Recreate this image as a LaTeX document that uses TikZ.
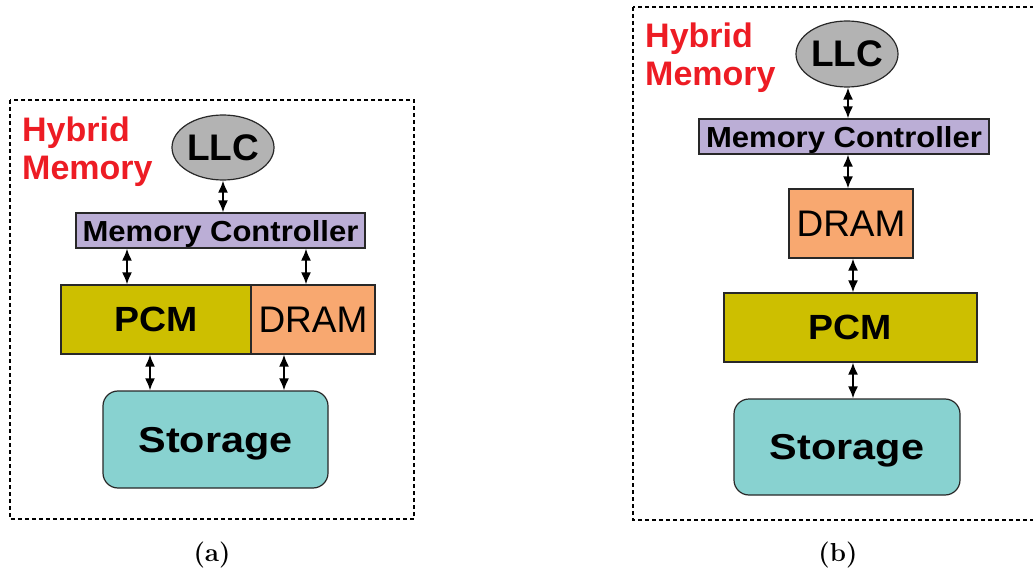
\documentclass[tikz,border=0pt]{standalone}
\usepackage{fontspec}
\newfontfamily\lsans{Liberation Sans}
\newfontfamily\lsanswide[FakeStretch=1.07]{Liberation Sans}
\newfontfamily\lsanswider[FakeStretch=1.15]{Liberation Sans}
\usetikzlibrary{arrows.meta,shapes.geometric}

\definecolor{llcgray}{RGB}{179,179,179}
\definecolor{mcpurple}{RGB}{187,174,214}
\definecolor{pcmolive}{RGB}{205,191,0}
\definecolor{dramorange}{RGB}{248,168,112}
\definecolor{storteal}{RGB}{136,210,208}
\definecolor{hybridred}{RGB}{237,28,36}
\definecolor{edgegray}{RGB}{40,40,40}

\tikzset{
  blk/.style={draw=edgegray, line width=1.2pt, inner sep=0pt, text=black},
  llcnode/.style={blk, ellipse, fill=llcgray, minimum width=102pt, minimum height=65pt,
    font=\lsans\bfseries\fontsize{37}{40}\selectfont},
  mcnode/.style={blk, rectangle, fill=mcpurple, minimum width=289pt, minimum height=35pt,
    text depth=0pt, font=\lsanswide\bfseries\fontsize{29}{32}\selectfont},
  pcmnode/.style={blk, rectangle, fill=pcmolive, minimum height=69pt,
    font=\lsanswide\bfseries\fontsize{35}{40}\selectfont},
  dramnode/.style={blk, rectangle, fill=dramorange, minimum width=124pt, minimum height=69pt,
    font=\lsans\fontsize{37}{40}\selectfont},
  stornode/.style={blk, rectangle, rounded corners=15pt, fill=storteal,
    minimum width=225pt, minimum height=97pt, text depth=0pt,
    font=\lsanswider\bfseries\fontsize{36}{40}\selectfont},
  hybridlabel/.style={anchor=north west, inner sep=0pt, align=left, text=hybridred,
    font=\lsans\bfseries\fontsize{34}{37.5}\selectfont},
  caption/.style={inner sep=0pt, font=\bfseries\fontsize{26}{30}\selectfont},
  frame/.style={draw=black, line width=1.3pt, dash pattern=on 4pt off 3pt},
  biarrow/.style={<->, >={Latex[length=12pt,width=10pt]}, line width=1.8pt, black},
}

\begin{document}
\begin{tikzpicture}[x=1pt,y=-1pt]
\useasboundingbox (0,0) rectangle (1033,569);

% ---------- (a) PCM and DRAM side by side ----------
\draw[frame] (10,100) rectangle (414,519);
\node[hybridlabel] (hyA) at (22,117) {Hybrid\\Memory};

\node[llcnode] (llcA) at (223,147.5) {LLC};
\node[mcnode] (mcA) at (220.5,230.5) {Memory Controller};
\node[pcmnode, minimum width=190pt] (pcmA) at (156,319.5) {PCM};
\node[dramnode] (dramA) at (313,319.5) {DRAM};
\node[stornode] (storA) at (215.5,439.5) {Storage};

\draw[biarrow] (llcA.south) -- (llcA.south |- mcA.north);
\draw[biarrow] ([xshift=-29pt]pcmA.north) -- ([xshift=-29pt]pcmA.north |- mcA.south);
\draw[biarrow] ([xshift=-7pt]dramA.north) -- ([xshift=-7pt]dramA.north |- mcA.south);
\draw[biarrow] ([xshift=-6pt]pcmA.south) -- ([xshift=-6pt]pcmA.south |- storA.north);
\draw[biarrow] ([xshift=-29pt]dramA.south) -- ([xshift=-29pt]dramA.south |- storA.north);

\node[caption] (capA) at (212,555) {(a)};

% ---------- (b) DRAM in front of PCM ----------
\draw[frame] (633,7) rectangle (1045,520);
\node[hybridlabel] (hyB) at (645,23) {Hybrid\\Memory};

\node[llcnode, minimum height=66pt] (llcB) at (847,54) {LLC};
\node[mcnode, minimum width=290pt] (mcB) at (844,136.5) {Memory Controller};
\node[dramnode] (dramB) at (851,223.5) {DRAM};
\node[pcmnode, minimum width=253pt] (pcmB) at (850.5,327.5) {PCM};
\node[stornode, minimum width=226pt, minimum height=96pt] (storB) at (847,447) {Storage};

\draw[biarrow] ([xshift=1pt]llcB.south) -- ([xshift=1pt]llcB.south |- mcB.north);
\draw[biarrow] ([xshift=-3pt]dramB.north) -- ([xshift=-3pt]dramB.north |- mcB.south);
\draw[biarrow] ([xshift=2pt]dramB.south) -- ([xshift=2pt]dramB.south |- pcmB.north);
\draw[biarrow] ([xshift=2.5pt]pcmB.south) -- ([xshift=2.5pt]pcmB.south |- storB.north);

\node[caption] (capB) at (838,555) {(b)};
\end{tikzpicture}
\end{document}
